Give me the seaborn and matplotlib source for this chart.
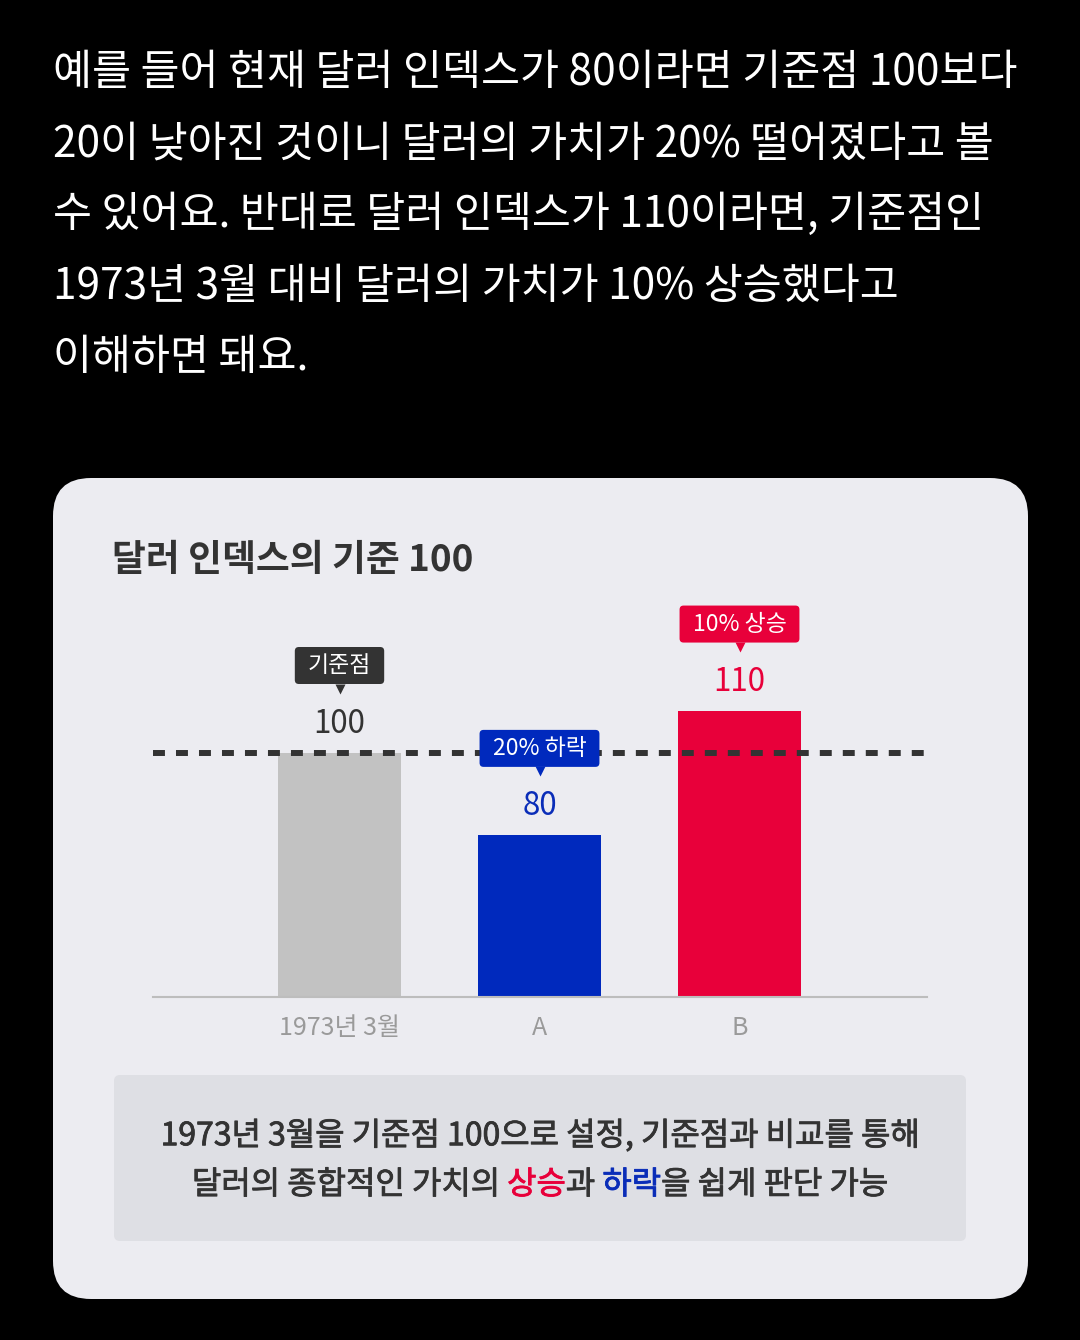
import matplotlib
matplotlib.use("Agg")
import matplotlib.pyplot as plt
import seaborn as sns
from matplotlib.patches import FancyBboxPatch
from matplotlib import transforms
from matplotlib import patheffects as pe

# ---------------- data ----------------
intro_lines = [
    "예를 들어 현재 달러 인덱스가 80이라면 기준점 100보다",
    "20이 낮아진 것이니 달러의 가치가 20% 떨어졌다고 볼",
    "수 있어요. 반대로 달러 인덱스가 110이라면, 기준점인",
    "1973년 3월 대비 달러의 가치가 10% 상승했다고",
    "이해하면 돼요.",
]
title = "달러 인덱스의 기준 100"
categories = ["1973년 3월", "A", "B"]
values = [100, 80, 110]
baseline_value = 100
badges = ["기준점", "20% 하락", "10% 상승"]
bar_colors = ["#c2c2c2", "#0029bd", "#e8003a"]
label_colors = ["#333333", "#0a2db8", "#e8003a"]
badge_colors = ["#333333", "#0029bd", "#e8003a"]
note_line1 = [("1973년 3월을 기준점 100으로 설정, 기준점과 비교를 통해", "#333333")]
note_line2 = [
    ("달러의 종합적인 가치의", "#333333"),
    (" 상승", "#e8003a"),
    ("과", "#333333"),
    (" 하락", "#0a2db8"),
    ("을 쉽게 판단 가능", "#333333"),
]

# ---------------- style ----------------
sns.set_theme(style="white")
plt.rcParams["font.family"] = ["Noto Sans CJK KR", "DejaVu Sans"]

W, H = 1080, 1340
fig = plt.figure(figsize=(W / 100, H / 100), dpi=100, facecolor="black")

# card background
card = FancyBboxPatch((53 / 100, (H - 1299) / 100), (1028 - 53) / 100, (1299 - 478) / 100,
                      boxstyle="round,pad=0,rounding_size=0.38",
                      transform=fig.dpi_scale_trans, facecolor="#ececf1",
                      edgecolor="none", zorder=0)
fig.add_artist(card)

# note box
note = FancyBboxPatch((114 / 100, (H - 1241) / 100), (966 - 114) / 100, (1241 - 1075) / 100,
                      boxstyle="round,pad=0,rounding_size=0.06",
                      transform=fig.dpi_scale_trans, facecolor="#dedfe4",
                      edgecolor="none", zorder=1)
fig.add_artist(note)

# intro text
for k, line in enumerate(intro_lines):
    fig.text(53 / W, 1 - (73 + 71.2 * k) / H, line, color="white", fontsize=30.5,
             ha="left", va="center")

# title
fig.text(112 / W, 1 - 560 / H, title, color="#333333", fontsize=26.5,
         fontweight="bold", ha="left", va="center")

# ---------------- chart ----------------
ax = fig.add_axes([153 / W, (H - 997) / H, 774 / W, 397 / H])
ax.set_facecolor("none")
sns.barplot(x=categories, y=values, hue=categories, palette=bar_colors,
            legend=False, width=0.615, saturation=1, linewidth=0, ax=ax, zorder=2)
ax.set_xlim(-0.9325, 2.9375)
ax.set_ylim(41.0, 136.8)
for s in ["top", "right", "left"]:
    ax.spines[s].set_visible(False)
ax.spines["bottom"].set_color("#bdbdbd")
ax.spines["bottom"].set_linewidth(1.5)
ax.set_yticks([])
ax.set_xlabel("")
ax.set_ylabel("")
ax.tick_params(axis="x", length=0, pad=13, labelsize=18, labelcolor="#9a9a9a")

ax.axhline(baseline_value, color="#333333", lw=4.3, dashes=(2.0, 1.85), zorder=3)

renderer = fig.canvas.get_renderer()
badge_texts = []
for i, v in enumerate(values):
    ax.annotate(str(v), (i, v), xytext=(0, 29), textcoords="offset pixels",
                ha="center", va="center", fontsize=22.5, color=label_colors[i], zorder=5)
    t = ax.annotate(badges[i], (i, v), xytext=(0, 87), textcoords="offset pixels",
                    ha="center", va="center", fontsize=16.5, color="white", zorder=8)
    badge_texts.append(t)
    tri = ax.transData + transforms.ScaledTranslation(0, 64 / 100, fig.dpi_scale_trans)
    ax.plot([i], [v], marker="v", ms=7.5, color=badge_colors[i], mec="none",
            transform=tri, clip_on=False, zorder=6)

# badge boxes sized from their text (wider horizontal padding than vertical)
for t, c in zip(badge_texts, badge_colors):
    bb = t.get_window_extent(renderer)
    cx, cy = (bb.x0 + bb.x1) / 2, (bb.y0 + bb.y1) / 2
    bw, bh = bb.width + 26, 37
    box = FancyBboxPatch((cx - bw / 2, cy - bh / 2), bw, bh,
                         boxstyle="round,pad=0,rounding_size=4",
                         transform=transforms.IdentityTransform(),
                         facecolor=c, edgecolor="none", zorder=7, clip_on=False)
    ax.add_artist(box)

# ---------------- note text ----------------


def colored_line(segments, xc, yc, **kw):
    texts = [fig.text(0, yc, s, color=c, ha="left", va="center", **kw) for s, c in segments]
    widths = [t.get_window_extent(renderer).width for t in texts]
    x = xc * W - sum(widths) / 2
    for (s, c), t, w in zip(segments, texts, widths):
        t.set_x(x / W)
        t.set_path_effects([pe.withStroke(linewidth=0.6, foreground=c)])
        x += w


colored_line(note_line1, 0.5, 1 - 1136 / H, fontsize=23)
colored_line(note_line2, 0.5, 1 - 1185 / H, fontsize=23)

fig.savefig("out.png", dpi=100, facecolor="black")
